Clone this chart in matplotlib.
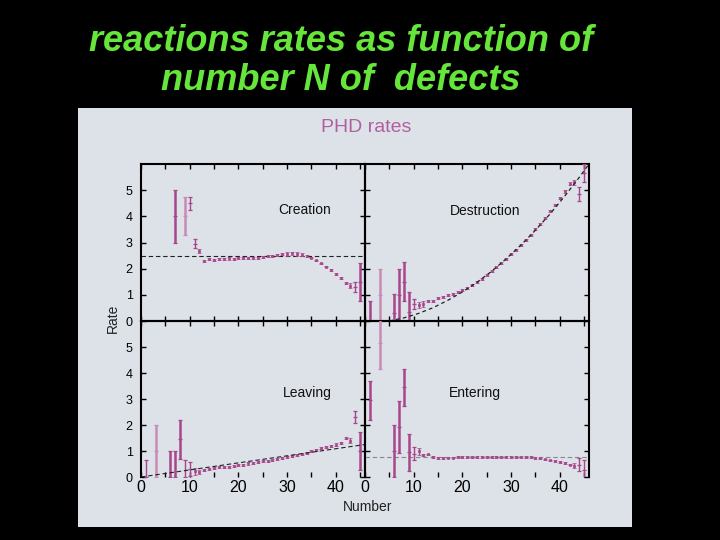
import matplotlib
matplotlib.use('Agg')
import matplotlib.pyplot as plt
from matplotlib.patches import Rectangle
from matplotlib.ticker import MultipleLocator

# ---------------- data ----------------
title_text = "reactions rates as function of\nnumber N of  defects"
panel_title = "PHD rates"
panel_names = ["Creation", "Destruction", "Leaving", "Entering"]
y_ticks = [0, 1, 2, 3, 4, 5]
x_ticks = [0, 10, 20, 30, 40]

tail_n = [13, 14, 15, 16, 17, 18, 19, 20, 21, 22, 23, 24, 25, 26, 27, 28, 29,
          30, 31, 32, 33, 34, 35, 36, 37, 38, 39, 40, 41, 42, 43, 44, 45]

creation_n = [7, 9, 10, 11, 12] + tail_n
creation_v = [4.0, 4.0, 4.5, 2.95, 2.68,
              2.30, 2.36, 2.34, 2.38, 2.37, 2.39, 2.38, 2.40, 2.41, 2.41, 2.42,
              2.42, 2.44, 2.47, 2.50, 2.53, 2.55, 2.56, 2.58, 2.56, 2.53, 2.49,
              2.42, 2.32, 2.20, 2.08, 1.95, 1.80, 1.64, 1.45, 1.35, 1.30, 1.50]
creation_e = [1.0, 0.72, 0.25, 0.17, 0.08,
              0.04, 0.04, 0.04, 0.04, 0.04, 0.04, 0.04, 0.04, 0.04, 0.04, 0.04,
              0.04, 0.04, 0.04, 0.04, 0.04, 0.04, 0.06, 0.06, 0.06, 0.06, 0.03,
              0.03, 0.03, 0.03, 0.03, 0.03, 0.03, 0.03, 0.03, 0.10, 0.20, 0.72]
creation_ref_n = [0, 46]
creation_ref_v = [2.47, 2.47]

destruction_n = [1, 3, 6, 7, 8, 9, 10, 11, 12] + tail_n
destruction_v = [0.0, 1.0, 0.3, 1.0, 1.5, 0.35, 0.65, 0.62, 0.65,
                 0.78, 0.76, 0.87, 0.92, 0.98, 1.04, 1.10, 1.18, 1.27, 1.38,
                 1.50, 1.62, 1.75, 1.90, 2.05, 2.20, 2.37, 2.55, 2.73, 2.92,
                 3.10, 3.30, 3.50, 3.72, 3.95, 4.20, 4.45, 4.70, 4.95, 5.25,
                 5.30, 4.84, 5.65]
destruction_e = [0.75, 1.0, 0.75, 1.0, 0.75, 0.75, 0.18, 0.12, 0.10,
                 0.04, 0.04, 0.04, 0.04, 0.04, 0.04, 0.04, 0.04, 0.04, 0.04,
                 0.04, 0.04, 0.04, 0.04, 0.04, 0.04, 0.04, 0.04, 0.04, 0.04,
                 0.04, 0.04, 0.04, 0.04, 0.04, 0.04, 0.04, 0.04, 0.04, 0.06,
                 0.10, 0.27, 0.35]
destruction_fit_n = [5, 8, 11, 14, 17, 20, 23, 26, 29, 32, 35, 38, 41, 44, 46]
destruction_fit_v = [0.0, 0.12, 0.29, 0.51, 0.79, 1.11, 1.48, 1.90, 2.38,
                     2.90, 3.47, 4.09, 4.77, 5.49, 6.0]

leaving_n = [1, 3, 6, 7, 8, 9, 10, 11, 12] + tail_n
leaving_v = [0.0, 1.0, 0.0, 0.0, 1.45, 0.0, 0.30, 0.22, 0.20,
             0.27, 0.30, 0.33, 0.37, 0.38, 0.40, 0.43, 0.46, 0.47, 0.52,
             0.54, 0.57, 0.60, 0.62, 0.65, 0.70, 0.73, 0.77, 0.81, 0.85,
             0.90, 0.94, 0.99, 1.05, 1.10, 1.15, 1.20, 1.25, 1.32, 1.50,
             1.40, 2.30, 1.00]
leaving_e = [0.65, 1.0, 1.0, 1.0, 0.75, 0.65, 0.27, 0.14, 0.08,
             0.04, 0.04, 0.04, 0.04, 0.04, 0.04, 0.04, 0.04, 0.04, 0.04,
             0.04, 0.04, 0.04, 0.04, 0.04, 0.04, 0.04, 0.04, 0.04, 0.04,
             0.04, 0.04, 0.04, 0.04, 0.04, 0.04, 0.04, 0.04, 0.04, 0.04,
             0.10, 0.22, 0.72]
leaving_fit_n = [0, 46]
leaving_fit_v = [0.0, 1.25]

entering_n = [1, 3, 6, 7, 8, 9, 10, 11, 12] + tail_n
entering_v = [2.95, 5.15, 1.0, 1.93, 3.45, 0.95, 0.90, 0.99, 0.85,
              0.87, 0.78, 0.74, 0.74, 0.75, 0.75, 0.76, 0.76, 0.76, 0.77,
              0.77, 0.77, 0.78, 0.78, 0.78, 0.78, 0.78, 0.78, 0.78, 0.77,
              0.77, 0.76, 0.74, 0.72, 0.68, 0.64, 0.61, 0.58, 0.53, 0.48,
              0.44, 0.48, 0.27]
entering_e = [0.74, 1.0, 1.0, 1.0, 0.72, 0.72, 0.24, 0.14, 0.05,
              0.03, 0.03, 0.03, 0.03, 0.03, 0.03, 0.03, 0.03, 0.03, 0.03,
              0.03, 0.03, 0.03, 0.03, 0.03, 0.03, 0.03, 0.03, 0.03, 0.03,
              0.03, 0.03, 0.03, 0.03, 0.03, 0.03, 0.03, 0.03, 0.03, 0.03,
              0.10, 0.26, 0.37]
entering_ref_n = [0, 46]
entering_ref_v = [0.76, 0.76]

# ---------------- style ----------------
BG = '#000000'
PANEL = '#dde1e8'
MAG = '#a8468c'
LIGHT = '#c98ab6'
GREEN = '#66e63a'

fig = plt.figure(figsize=(7.2, 5.4), dpi=100)
fig.patch.set_facecolor(BG)

fig.patches.append(Rectangle((78 / 720, 13 / 540), 554 / 720, 419 / 540,
                             transform=fig.transFigure, facecolor=PANEL,
                             edgecolor='none', zorder=-5))

fig.text(341 / 720, 1 - 61 / 540, title_text, ha='center', va='center',
         color=GREEN, fontsize=26, style='italic', weight='bold',
         family='Liberation Sans', linespacing=1.12)
fig.text(366 / 720, 1 - 127 / 540, panel_title, ha='center', va='center',
         color='#b0609e', fontsize=14, family='Liberation Sans')

L0, L1 = 141 / 720, 365 / 720
W = 224 / 720
B_top = (540 - 321) / 540
B_bot = (540 - 477) / 540
H_top = 157 / 540
H_bot = 156 / 540

axes = {
    'c': fig.add_axes([L0, B_top, W, H_top]),
    'd': fig.add_axes([L1, B_top, W, H_top]),
    'l': fig.add_axes([L0, B_bot, W, H_bot]),
    'e': fig.add_axes([L1, B_bot, W, H_bot]),
}

series = {
    'c': (creation_n, creation_v, creation_e, panel_names[0], (33.5, 4.24)),
    'd': (destruction_n, destruction_v, destruction_e, panel_names[1], (24.6, 4.19)),
    'l': (leaving_n, leaving_v, leaving_e, panel_names[2], (34.2, 3.24)),
    'e': (entering_n, entering_v, entering_e, panel_names[3], (22.5, 3.24)),
}
light_n = {'c': [9], 'd': [3], 'l': [3], 'e': [3]}

for key, ax in axes.items():
    n, v, e, name, pos = series[key]
    ax.set_facecolor('none')
    ax.set_zorder(2)
    ax.set_xlim(0, 46)
    ax.set_ylim(0, 6)
    for i in range(len(n)):
        col = LIGHT if n[i] in light_n[key] else MAG
        big = e[i] >= 0.15
        lw = 1.8 if e[i] >= 0.7 else 1.0
        ax.errorbar([n[i]], [v[i]], yerr=[e[i]], fmt='_' if big else 's',
                    color=col, ms=3.0 if big else 2.0, mec=col, mfc=col,
                    mew=0.9 if big else 0.5, elinewidth=lw, capsize=1.5,
                    capthick=0.8, zorder=3)
    ax.text(pos[0], pos[1], name, ha='center', va='center', fontsize=10,
            family='Liberation Sans', color='#111111')
    for s in ['left', 'right', 'top', 'bottom']:
        ax.spines[s].set_linewidth(1.5)
        ax.spines[s].set_color('black')
    ax.yaxis.set_major_locator(MultipleLocator(1))
    ax.xaxis.set_major_locator(MultipleLocator(10))
    ax.xaxis.set_minor_locator(MultipleLocator(5))
    ax.tick_params(axis='both', which='both', direction='in', length=3.5,
                   width=1, top=True, right=True, left=True, bottom=True,
                   color='black')
    ax.set_yticks(y_ticks)
    if key in ('c', 'l'):
        ax.set_yticklabels([str(t) for t in y_ticks], fontsize=9,
                           family='Liberation Sans')
        ax.tick_params(axis='y', pad=6)
    else:
        ax.tick_params(axis='y', labelleft=False)
    if key in ('c', 'd'):
        ax.tick_params(axis='x', labelbottom=False)
    else:
        ax.set_xticks(x_ticks)
        ax.set_xticklabels([str(t) for t in x_ticks], fontsize=11.5,
                           family='Liberation Sans')
        ax.tick_params(axis='x', pad=2)
        ax.spines['bottom'].set_visible(False)

axes['c'].plot(creation_ref_n, creation_ref_v, ls=(0, (4, 2.5)), color='#222222',
               lw=0.8, zorder=2)
axes['d'].plot(destruction_fit_n, destruction_fit_v, ls=(0, (3, 2.5)),
               color='#222222', lw=0.9, zorder=4)
axes['l'].plot(leaving_fit_n, leaving_fit_v, ls=(0, (4, 2.5)), color='#222222',
               lw=0.8, zorder=4)
axes['e'].plot(entering_ref_n, entering_ref_v, ls=(0, (4, 2.5)), color='#888888',
               lw=0.8, zorder=2)

fig.text(113 / 720, 1 - 318 / 540, 'Rate', rotation=90, ha='center',
         va='center', fontsize=10, family='Liberation Sans', color='#222222')
fig.text(368 / 720, 1 - 507 / 540, 'Number', ha='center', va='center',
         fontsize=10, family='Liberation Sans', color='#222222')

fig.savefig('out.png', dpi=100, facecolor=BG)
